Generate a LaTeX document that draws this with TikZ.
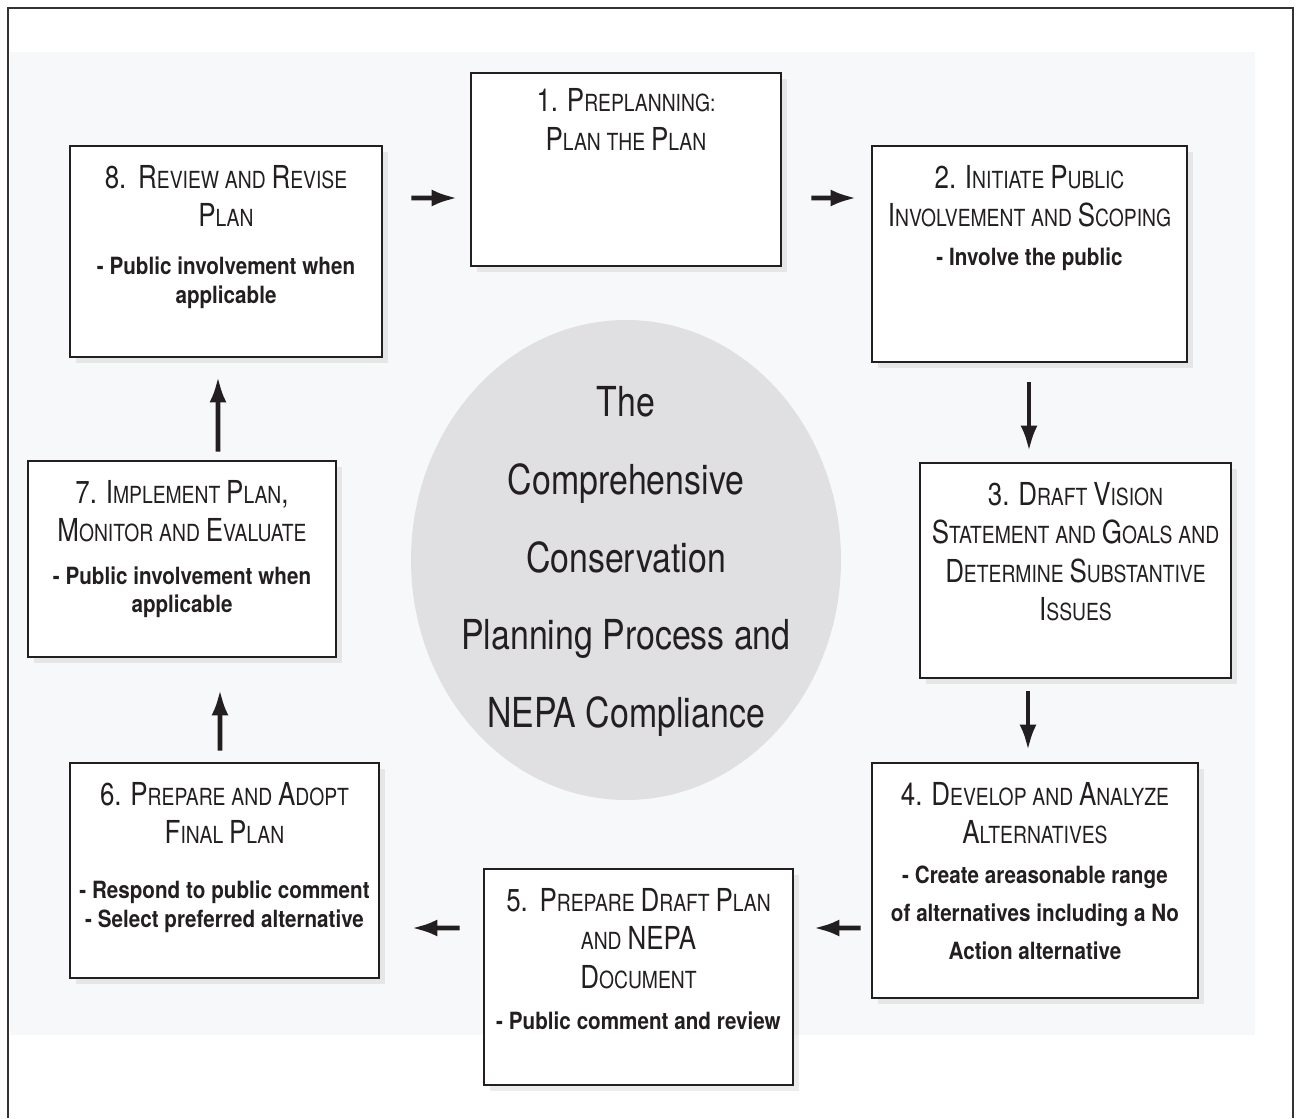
\documentclass[tikz,border=0pt]{standalone}
\usepackage{fontspec}
\setmainfont{TeX Gyre Heros}[FakeStretch=0.82]
\newfontfamily\bodyfam{TeX Gyre Heros}[FakeStretch=0.87]
\usetikzlibrary{arrows.meta, shadows, shapes.geometric}

\definecolor{ink}{HTML}{231F20}
\definecolor{paper}{HTML}{F7F8F9}
\definecolor{hub}{HTML}{E0E0E2}

\newcommand\hd{\fontsize{18}{21.8}\selectfont}
\newcommand\smc[1]{{\fontsize{13.4}{21.8}\selectfont #1}}
\newcommand\bd{\bodyfam\bfseries\fontsize{13.5}{16.3}\selectfont}

\begin{document}
\begin{tikzpicture}[
	> = {Latex[length = 0.52cm, width = 0.34cm]},
	stage/.style = {rectangle, draw = ink, line width = 1.6pt, fill = white, inner sep = 0,
		drop shadow = {opacity = 0.15, shadow xshift = 0.12cm, shadow yshift = -0.12cm}},
	stagetext/.style = {anchor = north, inner sep = 0, text width = 7.2cm, align = center, text = ink},
	flow/.style = {->, line width = 2.8pt, ink}
]

\useasboundingbox (0, 0) rectangle (25.98, 22.36);

% Frame and backdrop

\fill [paper] (0.2, 1.66) rectangle (25.1, 21.32);
\draw [line width = 1.5pt, black!80] (0.16, 0) -- (0.16, 22.2) -- (25.86, 22.2) -- (25.86, 0);

% Hub

\node [ellipse, fill = hub, minimum width = 8.6cm, minimum height = 9.6cm] (hub) at (12.52, 11.16) {};
\node [text = ink, align = center, font = \fontsize{23.5}{44.2}\selectfont] (title) at (12.52, 11.13)
	{The\\ Comprehensive\\ Conservation\\ Planning Process and\\ NEPA Compliance};

% Stages

\node [stage, minimum width = 6.2cm, minimum height = 3.86cm] (s1) at (12.52, 18.97) {};
\node [stagetext] (t1) at ([yshift = -0.34cm] s1.north)
	{\hd 1. P\smc{REPLANNING:}\\ P\smc{LAN THE} P\smc{LAN}\par};

\node [stage, minimum width = 6.3cm, minimum height = 4.32cm] (s2) at (20.59, 17.28) {};
\node [stagetext] (t2) at ([yshift = -0.41cm] s2.north)
	{\hd 2. I\smc{NITIATE} P\smc{UBLIC}\\ I\smc{NVOLVEMENT AND} S\smc{COPING}\par
	\vspace{5.6pt}{\bd - Involve the public\par}};

\node [stage, minimum width = 6.22cm, minimum height = 4.3cm] (s3) at (21.51, 10.95) {};
\node [stagetext] (t3) at ([yshift = -0.41cm] s3.north)
	{\hd 3. D\smc{RAFT} V\smc{ISION}\\ S\smc{TATEMENT AND} G\smc{OALS AND}\\
	D\smc{ETERMINE} S\smc{UBSTANTIVE}\\ I\smc{SSUES}\par};

\node [stage, minimum width = 6.52cm, minimum height = 4.7cm] (s4) at (20.7, 4.75) {};
\node [stagetext] (t4) at ([yshift = -0.41cm] s4.north)
	{\hd 4. D\smc{EVELOP AND} A\smc{NALYZE}\\ A\smc{LTERNATIVES}\par
	\vspace{1pt}{\bd\baselineskip = 21.6pt - Create areasonable range\\ of alternatives including a No\\ Action alternative\par}};

\node [stage, minimum width = 6.18cm, minimum height = 4.32cm] (s5) at (12.77, 2.82) {};
\node [stagetext] (t5) at ([yshift = -0.41cm] s5.north)
	{\hd 5.\ \ P\smc{REPARE} D\smc{RAFT} P\smc{LAN}\\ \smc{AND} NEPA\\ D\smc{OCUMENT}\par
	\vspace{7.2pt}{\bd - Public comment and review\par}};

\node [stage, minimum width = 6.18cm, minimum height = 4.3cm] (s6) at (4.49, 4.95) {};
\node [stagetext] (t6) at ([yshift = -0.41cm] s6.north)
	{\hd 6. P\smc{REPARE AND} A\smc{DOPT}\\ F\smc{INAL} P\smc{LAN}\par
	\vspace{15pt}{\bd - Respond to public comment\\ - Select preferred alternative\par}};

\node [stage, minimum width = 6.16cm, minimum height = 3.92cm] (s7) at (3.64, 11.18) {};
\node [stagetext] (t7) at ([yshift = -0.41cm] s7.north)
	{\hd 7. I\smc{MPLEMENT} P\smc{LAN},\\ M\smc{ONITOR AND} E\smc{VALUATE}\par
	\vspace{7.9pt}{\bd - Public involvement when\\ applicable\par}};

\node [stage, minimum width = 6.24cm, minimum height = 4.22cm] (s8) at (4.52, 17.33) {};
\node [stagetext] (t8) at ([yshift = -0.41cm] s8.north)
	{\hd 8.\ \ R\smc{EVIEW AND} R\smc{EVISE}\\ P\smc{LAN}\par
	\vspace{11pt}{\bd - Public involvement when\\ applicable\par}};

% Cycle arrows

\draw [flow, shorten <= 0.56cm, shorten >= 0.24cm] ([yshift = 1.07cm] s8.east) -- ([yshift = -0.57cm] s1.west);
\draw [flow, shorten <= 0.58cm, shorten >= 0.28cm] ([yshift = -0.57cm] s1.east) -- ([yshift = 1.12cm] s2.west);
\draw [flow, shorten <= 0.38cm, shorten >= 0.2cm] ([xshift = -0.01cm] s2.south) -- ([xshift = -0.93cm] s3.north);
\draw [flow, shorten <= 0.24cm, shorten >= 0.22cm] ([xshift = -0.95cm] s3.south) -- ([xshift = -0.14cm] s4.north);
\draw [flow, shorten <= 0.2cm, shorten >= 0.38cm] ([yshift = -0.95cm] s4.west) -- ([yshift = 0.98cm] s5.east);
\draw [flow, shorten <= 0.46cm, shorten >= 0.62cm] ([yshift = 0.98cm] s5.west) -- ([yshift = -1.15cm] s6.east);
\draw [flow, shorten <= 0.22cm, shorten >= 0.62cm] ([xshift = -0.09cm] s6.north) -- ([xshift = 0.76cm] s7.south);
\draw [flow, shorten <= 0.16cm, shorten >= 0.36cm] ([xshift = 0.72cm] s7.north) -- ([xshift = -0.16cm] s8.south);

\end{tikzpicture}
\end{document}
